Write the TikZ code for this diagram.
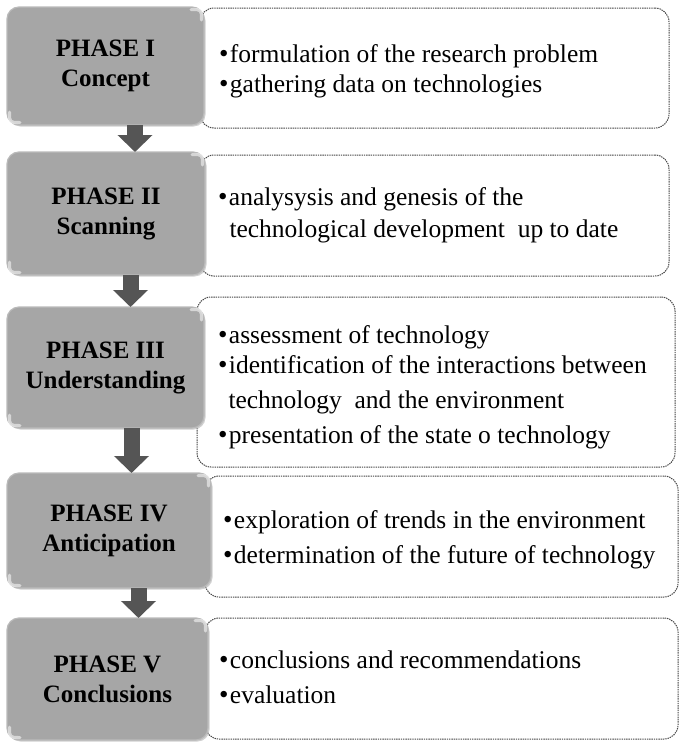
\documentclass[tikz,border=0pt]{standalone}
\usepackage{fontspec}
\setmainfont{Liberation Serif}
\usetikzlibrary{arrows.meta,shadows}
\definecolor{phasegray}{RGB}{166,166,166}
\definecolor{rimgray}{RGB}{186,186,186}
\definecolor{arrowgray}{RGB}{85,85,85}
\definecolor{dotgray}{RGB}{70,70,70}
% raised bullet in front of each item
\newcommand{\itembullet}{{\fontsize{27}{27}\selectfont\raisebox{-0.5pt}{•}}\hspace{1.5pt}}

\begin{document}
\begin{tikzpicture}[x=1pt,y=-1pt,
  phase/.style={rectangle, rounded corners=12pt, fill=phasegray, draw=rimgray,
    line width=1.2pt, text=black, font=\fontsize{25}{30}\selectfont\bfseries,
    align=center, inner sep=0pt, outer sep=0pt,
    drop shadow={shadow xshift=1.5pt, shadow yshift=-1.5pt, fill=black!30, opacity=0.6}},
  sheen/.style={white, opacity=0.55, line width=3pt, line cap=round},
  detail/.style={rectangle, rounded corners=14pt, draw=dotgray, line width=1pt,
    dash pattern=on 1.4pt off 0.9pt, fill=white, inner sep=0pt, outer sep=0pt},
  item/.style={anchor=base west, inner sep=0pt, outer sep=0pt,
    font=\fontsize{25.5}{30}\selectfont},
  flow/.style={draw=arrowgray, line width=16pt,
    -{Triangle[width=34pt,length=17pt]}}
]
\fill[white] (0,0) rectangle (679,742);
\useasboundingbox (0,0) rectangle (679,742);

% dotted detail panels (behind the phase boxes)
\node[detail, minimum width=469pt, minimum height=120pt] (d1) at (434.5,68) {};
\node[detail, minimum width=469pt, minimum height=121pt] (d2) at (434.5,215.5) {};
\node[detail, minimum width=478pt, minimum height=170pt] (d3) at (436,382) {};
\node[detail, minimum width=473pt, minimum height=121pt] (d4) at (441.5,536.5) {};
\node[detail, minimum width=473pt, minimum height=121pt] (d5) at (441.5,678.5) {};

% phase boxes
\node[phase, minimum width=197pt, minimum height=118pt] (p1) at (105.5,66) {PHASE I\\Concept};
\node[phase, minimum width=198pt, minimum height=123pt] (p2) at (106,213.5) {PHASE II\\Scanning};
\node[phase, minimum width=197pt, minimum height=121pt] (p3) at (105.5,367.5) {PHASE III\\Understanding};
\node[phase, minimum width=204pt, minimum height=115pt] (p4) at (109,530.5) {PHASE IV\\Anticipation};
\node[phase, minimum width=201pt, minimum height=122pt] (p5) at (107.5,679) {PHASE V\\Conclusions};

% light sheen on two corners of each phase box
\foreach \p in {p1,p2,p3,p4,p5}{
  \draw[sheen] ([xshift=-13pt,yshift=-2.5pt]\p.north east)
    .. controls ([xshift=-2.5pt,yshift=-2.5pt]\p.north east) .. ([xshift=-2.5pt,yshift=-13pt]\p.north east);
  \draw[sheen] ([xshift=2.5pt,yshift=13pt]\p.south west)
    .. controls ([xshift=2.5pt,yshift=2.5pt]\p.south west) .. ([xshift=13pt,yshift=2.5pt]\p.south west);
}

% block arrows between phases
\draw[flow] ([xshift=29.5pt]p1.south) -- ([xshift=29.5pt]p1.south |- p2.north);
\draw[flow] ([xshift=24.5pt]p2.south) -- ([xshift=24.5pt]p2.south |- p3.north);
\draw[flow] ([xshift=26pt]p3.south) -- ([xshift=26pt]p3.south |- p4.north);
\draw[flow] ([xshift=29.5pt]p4.south) -- ([xshift=29.5pt]p4.south |- p5.north);

% phase I details
\node[item] (i11) at (219,62) {\itembullet formulation of the research problem};
\node[item] (i12) at (219,92) {\itembullet gathering data on technologies};
% phase II details
\node[item] (i21) at (218,205) {\itembullet analysysis and genesis of the};
\node[item] (i22) at (229.5,237) {technological development\ \ up to date};
% phase III details
\node[item] (i31) at (218,343) {\itembullet assessment of technology};
\node[item] (i32) at (218,373) {\itembullet identification of the interactions between};
\node[item] (i33) at (228.5,408) {technology\ \ and the environment};
\node[item] (i34) at (218,443) {\itembullet presentation of the state o technology};
% phase IV details
\node[item] (i41) at (223,528) {\itembullet exploration of trends in the environment};
\node[item] (i42) at (223,563) {\itembullet determination of the future of technology};
% phase V details
\node[item] (i51) at (219,668) {\itembullet conclusions and recommendations};
\node[item] (i52) at (219,703) {\itembullet evaluation};
\end{tikzpicture}
\end{document}
